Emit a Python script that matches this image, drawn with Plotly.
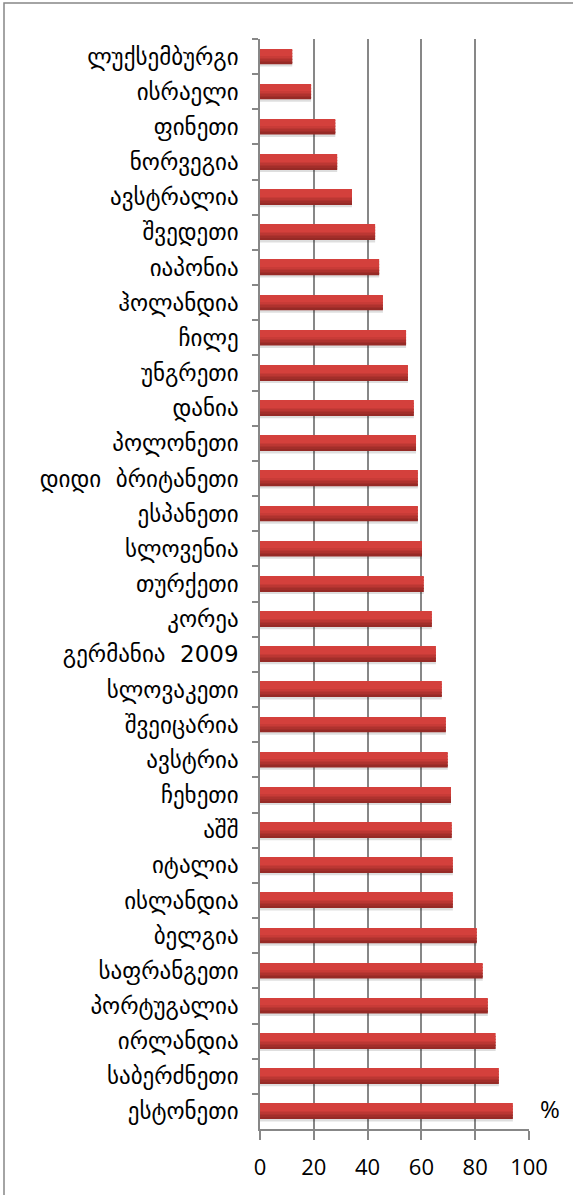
import plotly.graph_objects as go

countries = [
    "ლუქსემბურგი", "ისრაელი", "ფინეთი", "ნორვეგია", "ავსტრალია", "შვედეთი",
    "იაპონია", "ჰოლანდია", "ჩილე", "უნგრეთი", "დანია", "პოლონეთი",
    "დიდი  ბრიტანეთი", "ესპანეთი", "სლოვენია", "თურქეთი", "კორეა",
    "გერმანია  2009", "სლოვაკეთი", "შვეიცარია", "ავსტრია", "ჩეხეთი", "აშშ",
    "იტალია", "ისლანდია", "ბელგია", "საფრანგეთი", "პორტუგალია", "ირლანდია",
    "საბერძნეთი", "ესტონეთი",
]
values = [
    12, 19, 28, 28.7, 34.2, 42.8, 44.3, 45.7, 54.3, 55.0, 57.2, 58.0,
    58.7, 58.7, 60.2, 60.9, 63.9, 65.4, 67.6, 69.1, 69.8, 71.0, 71.3,
    71.7, 71.7, 80.6, 82.8, 84.7, 87.6, 88.8, 94.0,
]
x_ticks = [0, 20, 40, 60, 80, 100]
unit_label = "%"

GRAY = "#878787"
BAR_W = 0.43

fig = go.Figure()

# soft shadow beneath each bar
fig.add_trace(go.Bar(
    y=countries, x=values, orientation="h",
    width=BAR_W, offset=-BAR_W / 2 + 0.07,
    marker=dict(color="rgba(0,0,0,0.13)", line=dict(width=0)),
    hoverinfo="skip", showlegend=False,
))

# vertical gradient emulated with stacked strips
top = (212, 64, 60)
bottom = (150, 42, 38)
N = 10
for i in range(N):
    t = i / (N - 1)
    f = 0 if t < 0.45 else (t - 0.45) / 0.55
    c = tuple(int(top[k] + (bottom[k] - top[k]) * f) for k in range(3))
    fig.add_trace(go.Bar(
        y=countries, x=values, orientation="h",
        width=BAR_W / N + 0.002, offset=-BAR_W / 2 + i * BAR_W / N,
        marker=dict(color="rgb(%d,%d,%d)" % c, line=dict(width=0)),
        hovertemplate="%{y}: %{x}<extra></extra>", showlegend=False,
    ))

L, T = 260, 39
PW, PH = 269, 1090
W, H = 573, 1195

fig.update_layout(
    width=W, height=H,
    margin=dict(l=L, r=W - L - PW, t=T, b=H - T - PH, pad=0, autoexpand=False),
    barmode="overlay",
    plot_bgcolor="white", paper_bgcolor="white",
    showlegend=False,
    xaxis=dict(
        range=[0, 100], tickvals=x_ticks, ticktext=[str(v) for v in x_ticks],
        showgrid=True, gridcolor=GRAY, gridwidth=1.5,
        showline=True, linecolor=GRAY, linewidth=1.5,
        ticks="outside", ticklen=9, tickcolor=GRAY, tickwidth=1.5,
        ticklabelstandoff=9,
        tickfont=dict(family="Open Sans, Lato, sans-serif", size=22, color="black"),
        zeroline=False, fixedrange=True,
    ),
    yaxis=dict(
        type="category", autorange="reversed",
        categoryorder="array", categoryarray=countries,
        showgrid=False,
        showline=True, linecolor=GRAY, linewidth=1.5,
        ticks="outside", ticklen=6, tickcolor=GRAY, tickwidth=1.5,
        tickson="boundaries",
        ticklabelstandoff=15,
        tickfont=dict(family="DejaVu Sans, serif", size=23, color="black"),
        fixedrange=True,
    ),
    shapes=[dict(
        type="rect", xref="paper", yref="paper",
        x0=(4 - L) / PW, x1=(W + 20 - L) / PW,
        y0=-(H + 20 - T - PH) / PH, y1=(T + PH - 3) / PH,
        line=dict(color=GRAY, width=1.5), fillcolor="rgba(0,0,0,0)", layer="below",
    )],
    annotations=[dict(
        text=unit_label, xref="paper", yref="paper",
        x=(550 - L) / PW, y=(T + PH - 1108) / PH,
        xanchor="center", yanchor="middle", showarrow=False,
        font=dict(family="Open Sans, Lato, sans-serif", size=24, color="black"),
    )],
)

fig.write_html(
    "out.html",
    config={"displayModeBar": False},
    post_script="document.body.style.margin='0px';document.body.style.overflow='hidden';",
)
